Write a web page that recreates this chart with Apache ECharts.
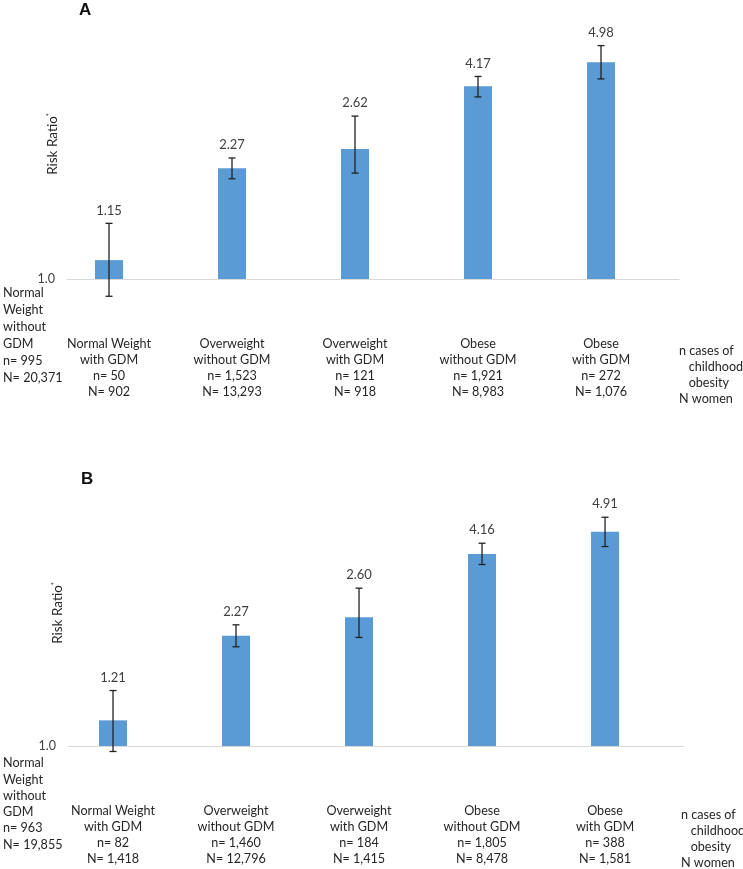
<!DOCTYPE html>
<html>
<head>
<meta charset="utf-8">
<script src="https://cdn.jsdelivr.net/npm/echarts@6/dist/echarts.min.js"></script>
<style>
html,body{margin:0;padding:0;background:#fff;}
#chart{width:743px;height:869px;}
</style>
</head>
<body>
<div id="chart"></div>
<script>
// ---- data ----
const positions = [1, 2, 3, 4, 5];
const groupNames = ['Normal Weight', 'Overweight', 'Overweight', 'Obese', 'Obese'];
const gdmStatus = ['with GDM', 'without GDM', 'with GDM', 'without GDM', 'with GDM'];

const rrA = [1.15, 2.27, 2.62, 4.17, 4.98];
const ciLowA = [0.88, 2.10, 2.19, 3.85, 4.40];
const ciHighA = [1.51, 2.45, 3.34, 4.48, 5.63];
const nCasesA = ['50', '1,523', '121', '1,921', '272'];
const nWomenA = ['902', '13,293', '918', '8,983', '1,076'];
const refCasesA = '995';
const refWomenA = '20,371';

const rrB = [1.21, 2.27, 2.60, 4.16, 4.91];
const ciLowB = [0.96, 2.09, 2.24, 3.85, 4.40];
const ciHighB = [1.51, 2.46, 3.23, 4.51, 5.47];
const nCasesB = ['82', '1,460', '184', '1,805', '388'];
const nWomenB = ['1,418', '12,796', '1,415', '8,478', '1,581'];
const refCasesB = '963';
const refWomenB = '19,855';

const yTickValues = [1];
const yTickLabels = ['1.0'];
const refName = ['Normal', 'Weight', 'without', 'GDM'];
const noteLines = ['n cases of', '   childhood', '   obesity', 'N women'];

// ---- chart ----
const FONT = 'Lato, "Liberation Sans", sans-serif';
const BAR = '#5B9BD5';
const TXT = '#262626';
const FS = 12.6;

function xAxisFor(gridIndex, min, max, nCases, nWomen) {
  return {
    type: 'value', gridIndex, min, max,
    splitLine: { show: false },
    axisTick: { show: false },
    axisLine: { show: true, onZero: false, lineStyle: { color: '#D9D9D9', width: 1 } },
    axisLabel: {
      customValues: positions,
      margin: 57,
      fontFamily: FONT, fontSize: FS, lineHeight: 16, color: TXT, align: 'center',
      formatter: function (v) {
        const i = positions.indexOf(Math.round(v));
        if (i < 0) return '';
        return groupNames[i] + '\n' + gdmStatus[i] + '\nn= ' + nCases[i] + '\nN= ' + nWomen[i];
      }
    }
  };
}
function yAxisFor(gridIndex) {
  return {
    type: 'log', logBase: 10, gridIndex, min: 1, max: 6,
    splitLine: { show: false },
    axisTick: { show: false },
    axisLine: { show: false },
    axisLabel: {
      customValues: yTickValues,
      margin: 12,
      fontFamily: FONT, fontSize: 12.5, color: '#404040',
      formatter: function (v) {
        const i = yTickValues.indexOf(v);
        return i >= 0 ? yTickLabels[i] : '';
      }
    }
  };
}
function barSeries(idx, rr) {
  return {
    type: 'bar', xAxisIndex: idx, yAxisIndex: idx,
    barWidth: 28,
    itemStyle: { color: BAR },
    data: positions.map((p, i) => [p, rr[i]]),
    silent: true
  };
}
function errSeries(idx, rr, lo, hi) {
  return {
    type: 'custom', xAxisIndex: idx, yAxisIndex: idx,
    clip: false, silent: true, z: 5,
    data: positions.map((p, i) => [p, lo[i], hi[i], rr[i]]),
    renderItem: function (params, api) {
      const x = api.value(0);
      const pLo = api.coord([x, api.value(1)]);
      const pHi = api.coord([x, api.value(2)]);
      const cap = 3.5;
      const st = { stroke: '#222', lineWidth: 1.3 };
      return {
        type: 'group',
        children: [
          { type: 'line', shape: { x1: pLo[0], y1: pLo[1], x2: pHi[0], y2: pHi[1] }, style: st },
          { type: 'line', shape: { x1: pHi[0] - cap, y1: pHi[1], x2: pHi[0] + cap, y2: pHi[1] }, style: st },
          { type: 'line', shape: { x1: pLo[0] - cap, y1: pLo[1], x2: pLo[0] + cap, y2: pLo[1] }, style: st },
          { type: 'text', x: pHi[0], y: pHi[1] - 13,
            style: { text: api.value(3).toFixed(2), fontFamily: FONT, fontSize: 13, fill: '#404040', align: 'center', verticalAlign: 'middle' } }
        ]
      };
    }
  };
}
function txt(x, y, text, extra) {
  return Object.assign({
    type: 'text', x, y, silent: true,
    style: Object.assign({ text, fontFamily: FONT, fontSize: FS, fill: TXT, lineHeight: 16 }, extra || {})
  });
}
function riskLabel(x, y) {
  return {
    type: 'text', x, y, rotation: Math.PI / 2, silent: true,
    style: {
      text: '{a|Risk Ratio}{s|*}',
      align: 'center', verticalAlign: 'middle',
      rich: {
        a: { fontFamily: FONT, fontSize: 13.5, fill: TXT },
        s: { fontFamily: FONT, fontSize: 7, fill: TXT, padding: [0, 0, 7, 0] }
      }
    }
  };
}

const chart = echarts.init(document.getElementById('chart'), null, { renderer: 'canvas' });
chart.setOption({
  animation: false,
  backgroundColor: '#fff',
  grid: [
    { left: 67, width: 612, top: 37, height: 242 },
    { left: 68, width: 616, top: 504.8, height: 241.2 }
  ],
  xAxis: [
    xAxisFor(0, 0.6585, 5.634, nCasesA, nWomenA),
    xAxisFor(1, 0.634, 5.642, nCasesB, nWomenB)
  ],
  yAxis: [yAxisFor(0), yAxisFor(1)],
  series: [
    barSeries(0, rrA), errSeries(0, rrA, ciLowA, ciHighA),
    barSeries(1, rrB), errSeries(1, rrB, ciLowB, ciHighB)
  ],
  graphic: [
    txt(79, 0, 'A', { fontFamily: '"Liberation Sans", Arial, sans-serif', fontWeight: 'bold', fontSize: 17, fill: '#111', lineHeight: 20 }),
    txt(81, 469, 'B', { fontFamily: '"Liberation Sans", Arial, sans-serif', fontWeight: 'bold', fontSize: 17, fill: '#111', lineHeight: 20 }),
    riskLabel(53, 144),
    riskLabel(58, 613),
    txt(3, 284.5, refName.concat(['n= ' + refCasesA, 'N= ' + refWomenA]).join('\n'), { lineHeight: 17 }),
    txt(3, 755, refName.concat(['n= ' + refCasesB, 'N= ' + refWomenB]).join('\n'), { lineHeight: 16.3 }),
    txt(679, 343, noteLines.join('\n')),
    txt(681, 807, noteLines.join('\n'))
  ]
});
</script>
</body>
</html>
